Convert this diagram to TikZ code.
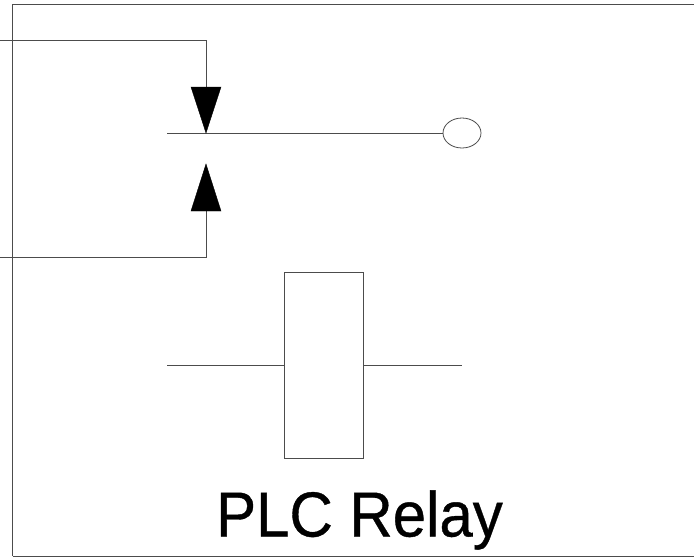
\documentclass[tikz,border=0pt]{standalone}
\usepackage{fontspec}
\setmainfont[FakeBold=0.6]{Liberation Sans}
\usetikzlibrary{shapes.geometric}
\begin{document}
\begin{tikzpicture}[x=1pt,y=-1pt]
        \tikzset{wire/.style={draw=black!70, line width=0.8pt},
                 tip/.style={draw=black, fill=black}}
        \useasboundingbox (0,0) rectangle (694,558);

        % frame
        \draw[wire] (694,4.5) -- (12.7,4.5) -- (12.7,556);
        \draw[draw=black!70, line width=1.5pt] (12.7,556.5) -- (694,556.5);

        \coordinate (inA) at (0,40);
        \coordinate (inB) at (0,257);
        \coordinate (cornerA) at (206,40);
        \coordinate (cornerB) at (206,257);
        \coordinate (tipA) at (206,133);
        \coordinate (tipB) at (206,164);
        \coordinate (armL) at (167,133);
        \coordinate (coilL) at (167,365);
        \coordinate (coilR) at (462,365);

        \node[wire, ellipse, minimum width=38pt, minimum height=30pt, inner sep=0pt] (lamp) at (462,133) {};

        \node[wire, minimum width=79pt, minimum height=186pt, inner sep=0pt] (coil) at (324,365) {};

        % contact
        \draw[wire] (inA) -- (cornerA) -- (206,87);
        \draw[wire] (inB) -- (cornerB) -- (206,211);
        \draw[wire] (armL) -- (lamp.west);
        \fill[tip] (191,87) -- (221,87) -- (tipA) -- cycle;
        \fill[tip] (191,211) -- (221,211) -- (tipB) -- cycle;

        % coil leads
        \draw[wire] (coilL) -- (coil.west);
        \draw[wire] (coil.east) -- (coilR);

        \node[font=\fontsize{60}{66}\selectfont, text=black, anchor=base, inner sep=0pt, yscale=1.06] (title) at (359.5,536.5) {PLC Relay};
\end{tikzpicture}
\end{document}
